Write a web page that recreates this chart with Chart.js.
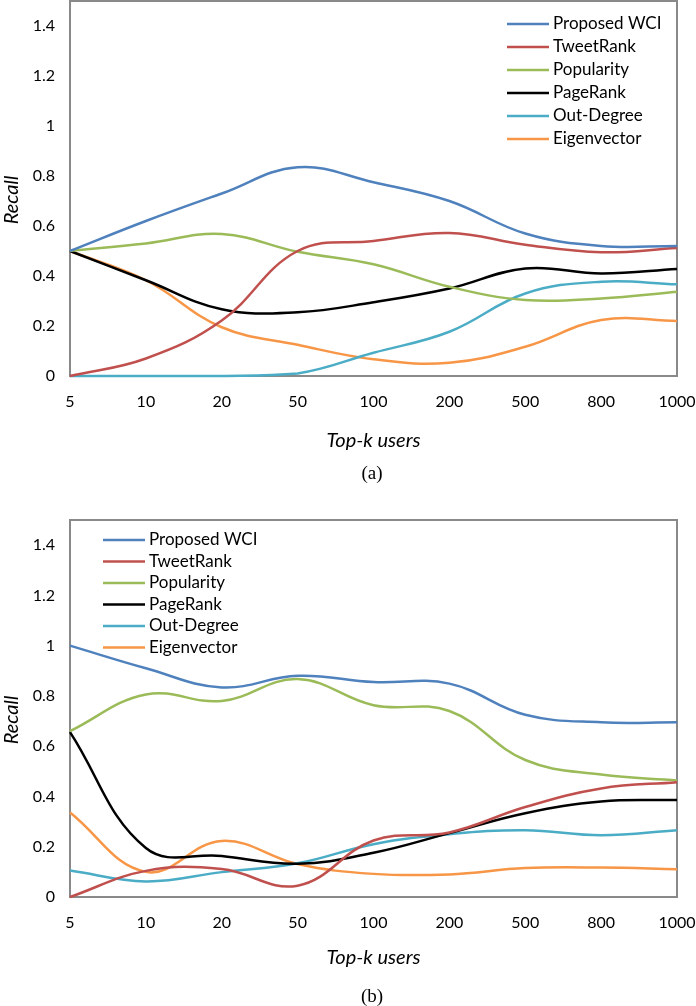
<!DOCTYPE html>
<html>
<head>
<meta charset="utf-8">
<title>Recall vs Top-k users</title>
<script src="https://cdn.jsdelivr.net/npm/chart.js@4.4.0/dist/chart.umd.min.js"></script>
<style>
  body { margin: 0; background: #fff; }
  #page { position: relative; width: 696px; height: 1006px; overflow: hidden; }
  .wrap { position: absolute; left: 0; width: 696px; }
  #wrap-a { top: 0; height: 460px; }
  #wrap-b { top: 480px; height: 526px; }
  .caption {
    position: absolute; left: 322px; width: 100px; height: 24px; line-height: 24px;
    text-align: center; font-family: "Liberation Serif", "DejaVu Serif", serif; font-size: 19px; color: #000;
  }
  #cap-a { top: 461px; }
  #cap-b { top: 984px; }
</style>
</head>
<body>
<div id="page">
  <div class="wrap" id="wrap-a"><canvas id="chart-a" width="696" height="460"></canvas></div>
  <div class="wrap" id="wrap-b"><canvas id="chart-b" width="696" height="526"></canvas></div>
  <div class="caption" id="cap-a">(a)</div>
  <div class="caption" id="cap-b">(b)</div>
</div>
<script>
// Categories (x axis)
const topK = ['5', '10', '20', '50', '100', '200', '500', '800', '1000'];
const methodNames = ['Proposed WCI', 'TweetRank', 'Popularity', 'PageRank', 'Out-Degree', 'Eigenvector'];
const methodColors = ['#4f81bd', '#c0504d', '#9bbb59', '#000000', '#4bacc6', '#f79646'];

// (a) values
const wciA   = [0.50, 0.62, 0.73, 0.835, 0.775, 0.70, 0.57, 0.52, 0.52];
const tweetA = [0.00, 0.07, 0.222, 0.50, 0.54, 0.572, 0.525, 0.495, 0.512];
const popA   = [0.50, 0.53, 0.568, 0.497, 0.447, 0.357, 0.304, 0.31, 0.337];
const pageA  = [0.50, 0.383, 0.267, 0.255, 0.295, 0.35, 0.43, 0.41, 0.428];
const outA   = [0.00, 0.00, 0.00, 0.01, 0.093, 0.177, 0.33, 0.377, 0.367];
const eigA   = [0.50, 0.383, 0.195, 0.125, 0.067, 0.053, 0.117, 0.224, 0.22];

// (b) values
const wciB   = [1.00, 0.91, 0.834, 0.88, 0.855, 0.849, 0.725, 0.695, 0.695];
const tweetB = [0.00, 0.104, 0.111, 0.045, 0.225, 0.257, 0.358, 0.432, 0.457];
const popB   = [0.66, 0.806, 0.78, 0.867, 0.763, 0.74, 0.545, 0.487, 0.464];
const pageB  = [0.656, 0.195, 0.163, 0.132, 0.176, 0.254, 0.333, 0.38, 0.386];
const outB   = [0.105, 0.062, 0.099, 0.134, 0.21, 0.25, 0.266, 0.246, 0.266];
const eigB   = [0.336, 0.10, 0.223, 0.131, 0.092, 0.09, 0.115, 0.117, 0.11];

// Y axis ticks
const recallTicks = [0, 0.2, 0.4, 0.6, 0.8, 1, 1.2, 1.4];

document.addEventListener('DOMContentLoaded', function() {
  Chart.defaults.font.family = 'Lato, "Open Sans", sans-serif';
  Chart.defaults.color = '#000';

  // Gray box around the plot area
  const framePlugin = {
    id: 'frame',
    beforeDatasetsDraw(chart) {
      const { ctx, chartArea } = chart;
      ctx.save();
      ctx.strokeStyle = '#898989';
      ctx.lineWidth = 2;
      ctx.strokeRect(chartArea.left, chartArea.top, chartArea.right - chartArea.left, chartArea.bottom - chartArea.top);
      ctx.restore();
    }
  };

  // Legend drawn inside the plot, like the Excel one
  const insideLegend = {
    id: 'insideLegend',
    afterDatasetsDraw(chart, args, opts) {
      const { ctx, chartArea } = chart;
      ctx.save();
      ctx.font = opts.fontSize + 'px Lato, "Open Sans", sans-serif';
      ctx.textBaseline = 'middle';
      ctx.textAlign = 'left';
      chart.data.datasets.forEach((ds, i) => {
        const x = chartArea.left + opts.left;
        const y = chartArea.top + opts.top + i * opts.rowGap;
        ctx.strokeStyle = ds.borderColor;
        ctx.lineWidth = 2.5;
        ctx.beginPath();
        ctx.moveTo(x, y);
        ctx.lineTo(x + opts.lineLength, y);
        ctx.stroke();
        ctx.fillStyle = '#000';
        ctx.fillText(ds.label, x + opts.lineLength + 4, y);
      });
      ctx.restore();
    }
  };

  function makeDatasets(seriesList) {
    return seriesList.map((values, i) => ({
      label: methodNames[i],
      data: values,
      borderColor: methodColors[i],
      backgroundColor: methodColors[i],
      borderWidth: 2.5,
      pointRadius: 0,
      tension: 0.4,
      fill: false,
      clip: 3
    }));
  }

  function makeOptions(cfg) {
    return {
      responsive: false,
      animation: false,
      devicePixelRatio: 1,
      layout: { padding: { top: cfg.padTop, right: 19, bottom: 0, left: 0 } },
      plugins: {
        legend: { display: false },
        tooltip: { enabled: false },
        insideLegend: cfg.legend
      },
      scales: {
        x: {
          type: 'category',
          offset: false,
          grid: { display: false, drawTicks: false },
          border: { display: false },
          ticks: { font: { size: 16 }, padding: 16, maxRotation: 0, autoSkip: false },
          title: {
            display: true,
            text: 'Top-k users',
            font: { size: 20, style: 'italic' },
            padding: { top: 0, bottom: cfg.xTitlePad }
          },
          afterFit: function(scale) {
            scale.height = cfg.xHeight;
            scale.paddingLeft = 0;
            scale.paddingRight = 0;
          }
        },
        y: {
          min: 0,
          max: 1.5,
          grid: { display: false, drawTicks: false },
          border: { display: false },
          afterBuildTicks: function(scale) {
            scale.ticks = recallTicks.map(v => ({ value: v }));
          },
          ticks: {
            font: { size: 16 },
            padding: 15,
            callback: v => String(Math.round(v * 10) / 10)
          },
          title: {
            display: true,
            // trailing spaces push the word a little below the middle, as in the original
            text: 'Recall\u2003\u2002',
            font: { size: 20, style: 'italic' },
            padding: { top: 0, bottom: 0 }
          },
          afterFit: function(scale) {
            scale.width = 70;
            scale.paddingTop = 0;
            scale.paddingBottom = 0;
          }
        }
      }
    };
  }

  // Chart (a)
  new Chart(document.getElementById('chart-a').getContext('2d'), {
    type: 'line',
    data: { labels: topK, datasets: makeDatasets([wciA, tweetA, popA, pageA, outA, eigA]) },
    options: makeOptions({
      padTop: 1,
      xHeight: 84,
      xTitlePad: 7,
      legend: { left: 437, top: 23, rowGap: 23, lineLength: 42, fontSize: 17 }
    }),
    plugins: [framePlugin, insideLegend]
  });

  // Chart (b)
  new Chart(document.getElementById('chart-b').getContext('2d'), {
    type: 'line',
    data: { labels: topK, datasets: makeDatasets([wciB, tweetB, popB, pageB, outB, eigB]) },
    options: makeOptions({
      padTop: 40,
      xHeight: 109,
      xTitlePad: 36,
      legend: { left: 33, top: 20, rowGap: 21.5, lineLength: 42, fontSize: 17 }
    }),
    plugins: [framePlugin, insideLegend]
  });
});
</script>
</body>
</html>
